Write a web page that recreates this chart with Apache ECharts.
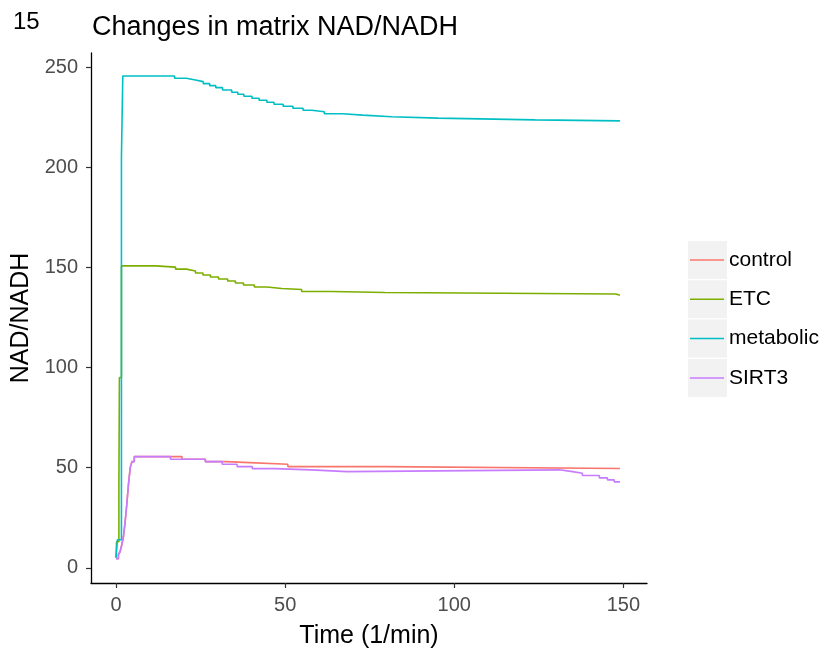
<!DOCTYPE html>
<html>
<head>
<meta charset="utf-8">
<script src="https://cdn.jsdelivr.net/npm/echarts@6/dist/echarts.min.js"></script>
<style>
html,body{margin:0;padding:0;background:#fff;}
#chart{width:826px;height:654px;}
</style>
</head>
<body>
<div id="chart"></div>
<script>
// Data: [time (min), NAD/NADH] level-start points
const seriesNames = ['control', 'ETC', 'metabolic', 'SIRT3'];
const seriesColors = ['#F8766D', '#7CAE00', '#00BFC4', '#C77CFF'];
const xTicks = [0, 50, 100, 150];
const yTicks = [0, 50, 100, 150, 200, 250];

const control = [[0,4.5],[0.7,6.5],[1.2,8],[1.7,11.5],[2.2,15.6],[2.7,23],[3.2,32],[3.7,42],[4.2,50],[4.7,53],[5.4,55.5],
  [19.5,54.2],[26.4,53.0],[32.6,52.5],[39.5,51.7],[50.8,50.5],[79.7,49.6],[149,49.6]];

const etc = [[0,5],[0.15,13],[0.85,41],[1.0,95],[1.6,150.7],[11.7,150.1],[17.6,149.1],[20.8,148.2],
  [23.5,147.2],[25.7,146.2],[27.9,145.2],[30.3,144.2],[33,143.2],[35.3,142.2],[37.7,141.2],[40.9,140.2],[44.6,139.4],
  [49,138.9],[54.9,137.9],[63.8,137.4],[79.5,136.7],[147.8,136.1],[149,136.1]];

const metabolic = [[0,5],[0.4,14],[1.6,205],[2.0,245.5],[17.3,244.4],[20.8,243.5],[23.5,242.7],[25.8,241.7],[27.7,240.7],
  [29.5,239.7],[31.5,238.5],[34.2,237.4],[36,236.4],[37.8,235.4],[40.2,234.4],[42.3,233.4],[44.6,232.4],[46.7,231.4],
  [49.4,230.4],[52.3,229.4],[55.3,228.4],[57.9,227.7],[61.6,226.7],[66.9,226],[73,225.2],[81.5,224.5],[95.2,223.6],
  [124,223.1],[149,223.1]];

const sirt3 = [[0,4.5],[0.7,6.5],[1.2,8],[1.7,11.5],[2.2,15.6],[2.7,23],[3.2,32],[3.7,42],[4.2,50],[4.7,53],[5.4,55.5],
  [16.1,54.2],[26.4,53.0],[31.4,51.7],[35.8,50.5],[40.3,49.5],[47.0,48.9],[57.7,48.0],[68.3,48.9],[131.1,48.0],
  [135,47.2],[137.9,46.1],[142.9,44.9],[145.3,43.9],[147.3,42.9],[149,42.9]];

const seriesData = [control, etc, metabolic, sirt3];

const FONT = '"Liberation Sans", Arial, sans-serif';
const chart = echarts.init(document.getElementById('chart'), null, {renderer: 'canvas'});

const legendTop = 241, legendStep = 39.3;
const keyRects = seriesNames.map((n, i) => ({
  type: 'rect', z: -1,
  shape: {x: 688, y: legendTop + i * legendStep, width: 39, height: 38},
  style: {fill: '#F2F2F2'}
}));

chart.setOption({
  animation: false,
  backgroundColor: '#fff',
  textStyle: {fontFamily: FONT},
  title: [
    {text: '15', left: 8, top: 5, textStyle: {fontSize: 24, fontWeight: 'normal', color: '#000', fontFamily: FONT}},
    {text: 'Changes in matrix NAD/NADH', left: 87, top: 9, textStyle: {fontSize: 27, fontWeight: 'normal', color: '#000', fontFamily: FONT}}
  ],
  graphic: keyRects,
  legend: {
    orient: 'vertical', left: 685, top: legendTop - 5,
    icon: 'rect',
    itemWidth: 34, itemHeight: 1.5, itemGap: legendStep - 38,
    data: seriesNames,
    textStyle: {fontSize: 21, lineHeight: 38, color: '#000', fontFamily: FONT}
  },
  grid: {left: 91, right: 179, top: 53, bottom: 71, containLabel: false},
  xAxis: {
    type: 'value', min: -7.4, max: 157,
    name: 'Time (1/min)', nameLocation: 'middle', nameGap: 41,
    nameTextStyle: {fontSize: 25, color: '#000', fontFamily: FONT},
    axisLine: {show: true, onZero: false, lineStyle: {color: '#000', width: 1.3}},
    axisTick: {show: true, length: 5, lineStyle: {color: '#333', width: 1.2}, customValues: xTicks},
    axisLabel: {customValues: xTicks, fontSize: 20, color: '#4D4D4D', margin: 12, fontFamily: FONT},
    splitLine: {show: false}
  },
  yAxis: {
    type: 'value', min: -7.6, max: 257,
    name: 'NAD/NADH', nameLocation: 'middle', nameGap: 55,
    nameTextStyle: {fontSize: 25, color: '#000', fontFamily: FONT},
    axisLine: {show: true, onZero: false, lineStyle: {color: '#000', width: 1.3}},
    axisTick: {show: true, length: 5, lineStyle: {color: '#333', width: 1.2}, customValues: yTicks},
    axisLabel: {customValues: yTicks, fontSize: 20, color: '#4D4D4D', margin: 13, fontFamily: FONT},
    splitLine: {show: false}
  },
  series: seriesNames.map((n, i) => ({
    name: n, type: 'line', step: 'end',
    data: seriesData[i],
    symbol: 'none', showSymbol: false,
    lineStyle: {color: seriesColors[i], width: 1.6},
    itemStyle: {color: seriesColors[i]},
    z: 2 + i
  }))
});
</script>
</body>
</html>
